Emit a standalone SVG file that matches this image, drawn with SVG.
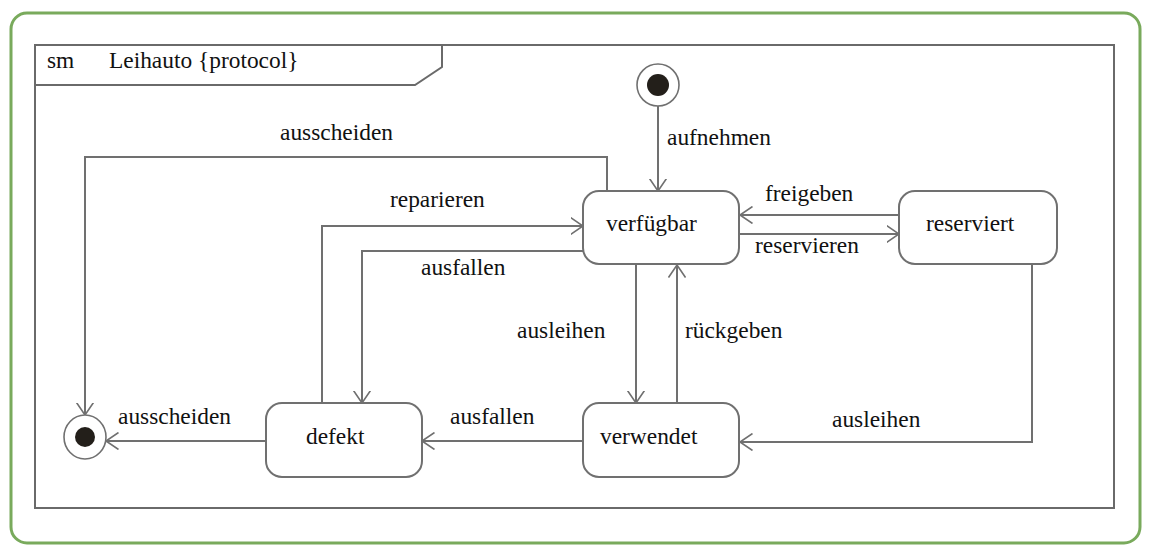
<svg xmlns="http://www.w3.org/2000/svg" width="1151" height="552" viewBox="0 0 1151 552">
<style>
.t{font-family:"Liberation Serif","Times New Roman",serif;font-size:23.4px;fill:#111}
.node{fill:#fff;stroke:#707070;stroke-width:2}
.conn{fill:none;stroke:#707070;stroke-width:2;marker-end:url(#arr)}
.dot{fill:#231f1a}
</style>
<defs>
<marker id="arr" viewBox="0 0 13 18" refX="12.5" refY="9" markerWidth="13" markerHeight="18" orient="auto" markerUnits="userSpaceOnUse">
<path d="M0,0.5 L12.5,9 L0,17.5" fill="none" stroke="#707070" stroke-width="1.6"/>
</marker>
</defs>
<rect x="0" y="0" width="1151" height="552" fill="#fff"/>
<rect x="11" y="13" width="1129" height="530" rx="16" fill="none" stroke="#79aa5c" stroke-width="3"/>
<g id="frame">
<rect x="35" y="45" width="1079" height="463" fill="none" stroke="#6a6a6a" stroke-width="2"/>
<path d="M35,85 H415 L442,67 V45" fill="none" stroke="#6a6a6a" stroke-width="2"/>
<text class="t" x="47" y="68">sm</text>
<text class="t" x="109" y="68">Leihauto {protocol}</text>
</g>
<g id="connectors">
<path class="conn" d="M658,106 V191"/>
<path class="conn" d="M899,215 H740"/>
<path class="conn" d="M740,234 H899"/>
<path class="conn" d="M607,191 V157 H85 V415"/>
<path class="conn" d="M322,403 V226 H583"/>
<path class="conn" d="M583,251 H362 V403"/>
<path class="conn" d="M636,265 V403"/>
<path class="conn" d="M677,403 V265"/>
<path class="conn" d="M1032,265 V442 H740"/>
<path class="conn" d="M583,441 H422"/>
<path class="conn" d="M266,441 H106"/>
<text class="t" x="667" y="145">aufnehmen</text>
<text class="t" x="765" y="201">freigeben</text>
<text class="t" x="755" y="253">reservieren</text>
<text class="t" x="280" y="140">ausscheiden</text>
<text class="t" x="390" y="207">reparieren</text>
<text class="t" x="421" y="275">ausfallen</text>
<text class="t" x="517" y="338">ausleihen</text>
<text class="t" x="685" y="338">rückgeben</text>
<text class="t" x="832" y="427">ausleihen</text>
<text class="t" x="450" y="424">ausfallen</text>
<text class="t" x="118" y="424">ausscheiden</text>
</g>
<g id="initial">
<circle cx="658" cy="85" r="21" fill="#fff" stroke="#707070" stroke-width="1.6"/>
<circle class="dot" cx="658" cy="85" r="11"/>
</g>
<g id="final">
<ellipse cx="85" cy="437" rx="21" ry="22" fill="#fff" stroke="#707070" stroke-width="1.6"/>
<circle class="dot" cx="85" cy="437" r="10"/>
</g>
<g id="verfuegbar">
<rect class="node" x="583" y="191" width="156" height="73" rx="16"/>
<text class="t" x="606" y="231">verfügbar</text>
</g>
<g id="reserviert">
<rect class="node" x="899" y="191" width="158" height="73" rx="16"/>
<text class="t" x="926" y="231">reserviert</text>
</g>
<g id="defekt">
<rect class="node" x="266" y="403" width="156" height="74" rx="16"/>
<text class="t" x="306" y="444">defekt</text>
</g>
<g id="verwendet">
<rect class="node" x="583" y="403" width="156" height="74" rx="16"/>
<text class="t" x="600" y="444">verwendet</text>
</g>
</svg>
